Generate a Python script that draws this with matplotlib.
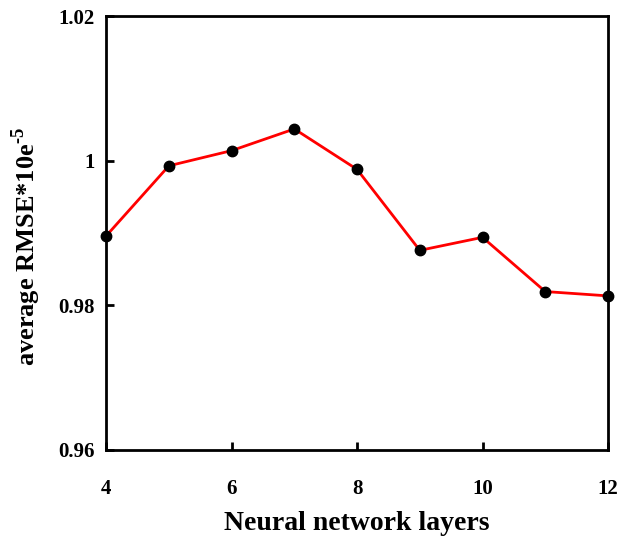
import matplotlib.pyplot as plt

plt.rcParams['font.family'] = ['Liberation Serif', 'DejaVu Serif']
plt.rcParams['font.weight'] = 'bold'
plt.rcParams['mathtext.fontset'] = 'custom'
plt.rcParams['mathtext.rm'] = 'Liberation Serif:bold'
plt.rcParams['mathtext.bf'] = 'Liberation Serif:bold'

layers = [4, 5, 6, 7, 8, 9, 10, 11, 12]
rmse = [0.9896, 0.9993, 1.0014, 1.0044, 0.9988, 0.9876, 0.9894, 0.9819, 0.9813]

fig = plt.figure(figsize=(6.32, 5.4), dpi=100)
ax = fig.add_axes([0.168, 0.167, 0.794, 0.803])

ax.plot(layers, rmse, color='red', lw=2, marker='o', ms=7.5,
        mfc='black', mec='black', clip_on=False, zorder=3)

ax.set_xlim(4, 12)
ax.set_ylim(0.96, 1.02)
ax.set_xticks([4, 6, 8, 10, 12])
ax.set_yticks([0.96, 0.98, 1.0, 1.02])
ax.set_yticklabels(['0.96', '0.98', '1', '1.02'])

for s in ax.spines.values():
    s.set_linewidth(2)
ax.tick_params(direction='in', length=6, width=2, labelsize=15, pad=8)
ax.tick_params(axis='x', pad=21)

ax.set_xlabel('Neural network layers', fontsize=20, fontweight='bold', labelpad=9)
ax.set_ylabel('average RMSE*10e$^{\\text{-5}}$', fontsize=19, fontweight='bold')
ax.yaxis.set_label_coords(-0.125, 0.47)

fig.savefig('out.png', dpi=100)
